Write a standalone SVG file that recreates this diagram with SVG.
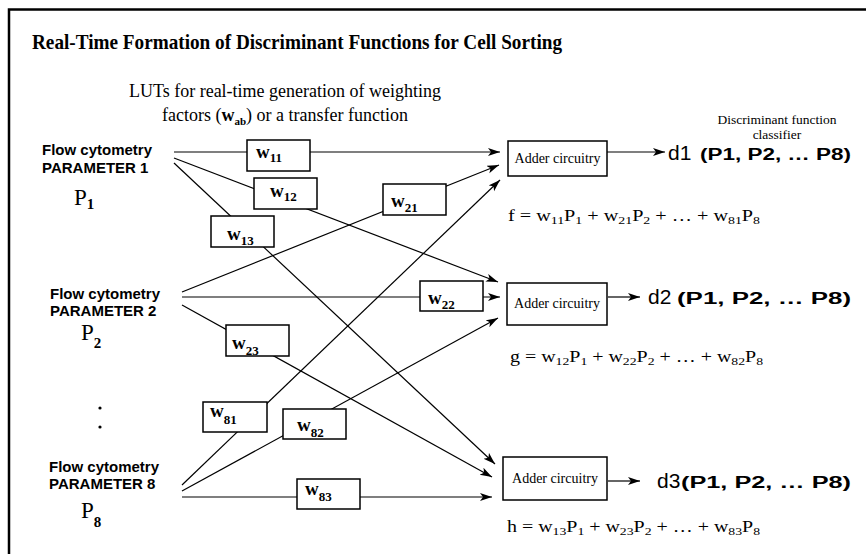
<svg xmlns="http://www.w3.org/2000/svg" width="866" height="554" viewBox="0 0 866 554">
<style>
.frame{fill:none;stroke:#000;stroke-width:2.5}
.ln{fill:none;stroke:#000;stroke-width:1.2}
.arr{marker-end:url(#ah)}
.wbox{fill:#fff;stroke:#000;stroke-width:1.5}
.abox{fill:#fff;stroke:#000;stroke-width:1.5}
.ser{font-family:"Liberation Serif","Times New Roman",serif;fill:#000}
.wl{font-family:"Liberation Serif","Times New Roman",serif;font-weight:bold;font-size:19px}
.ws{font-size:13px}
.par{font-family:"Liberation Sans",Arial,sans-serif;font-weight:bold;font-size:15px}
.pl{font-family:"Liberation Serif","Times New Roman",serif;font-size:23px}
.plsub{font-size:15px;font-weight:bold}
.add{font-family:"Liberation Serif","Times New Roman",serif;font-size:14px}
.fm{font-family:"Liberation Serif","Times New Roman",serif;font-size:16px}
.sb{font-size:11px}
.dd{font-family:"Liberation Sans",Arial,sans-serif;font-size:21px}
.dp{font-family:"Liberation Sans",Arial,sans-serif;font-size:16px;font-weight:bold}
</style>
<defs>
<marker id="ah" markerUnits="userSpaceOnUse" markerWidth="13" markerHeight="9" refX="12" refY="4" orient="auto">
<path d="M0,0 L12,4 L0,8 L3,4 z" fill="#000"/>
</marker>
</defs>
<rect width="866" height="554" fill="#fff"/>
<path class="frame" d="M9,560 V9.5 H870"/>
<text class="ser" x="32" y="49" font-size="21" font-weight="bold" textLength="530" lengthAdjust="spacingAndGlyphs">Real-Time Formation of Discriminant Functions for Cell Sorting</text>
<text class="ser" x="285" y="97" font-size="18" text-anchor="middle">LUTs for real-time generation of weighting</text>
<text class="ser" x="285" y="121" font-size="18" text-anchor="middle">factors (<tspan font-weight="bold">w</tspan><tspan font-size="11" font-weight="bold" dy="4">ab</tspan><tspan dy="-4">) or a transfer function</tspan></text>
<text class="ser" x="777" y="124" font-size="13.5" text-anchor="middle">Discriminant function</text>
<text class="ser" x="777" y="139" font-size="13.5" text-anchor="middle">classifier</text>

<g id="connectors">
<path class="ln arr" d="M174,152 H500"/>
<path class="ln arr" d="M174,158 L498,282"/>
<path class="ln arr" d="M174,163 L495,464"/>
<path class="ln arr" d="M182,292 L499,165"/>
<path class="ln arr" d="M182,297 H500"/>
<path class="ln arr" d="M182,305 L492,477"/>
<path class="ln arr" d="M182,485 L500,180"/>
<path class="ln arr" d="M182,491 L498,318"/>
<path class="ln arr" d="M182,497 H492"/>
<path class="ln arr" d="M607,152 H665"/>
<path class="ln arr" d="M608,297 H640"/>
<path class="ln arr" d="M608,481 H640"/>
</g>

<g id="param1">
<text class="par" x="42" y="155">Flow cytometry</text>
<text class="par" x="42" y="172.5">PARAMETER 1</text>
<text class="pl" x="74" y="205">P<tspan class="plsub" dy="4">1</tspan></text>
</g>
<g id="param2">
<text class="par" x="50" y="299">Flow cytometry</text>
<text class="par" x="50" y="316">PARAMETER 2</text>
<text class="pl" x="81" y="340">P<tspan class="plsub" dy="8">2</tspan></text>
</g>
<g id="dots">
<circle cx="100" cy="408" r="1.6" fill="#000"/>
<circle cx="100" cy="427" r="1.6" fill="#000"/>
</g>
<g id="param8">
<text class="par" x="49" y="471.5">Flow cytometry</text>
<text class="par" x="49" y="489">PARAMETER 8</text>
<text class="pl" x="81" y="518">P<tspan class="plsub" dy="9">8</tspan></text>
</g>

<g id="w11"><rect class="wbox" x="247" y="140" width="63" height="31"/><text class="wl" x="256" y="158">w<tspan class="ws" dy="4">11</tspan></text></g>
<g id="w12"><rect class="wbox" x="254" y="178" width="63" height="31"/><text class="wl" x="270" y="197">w<tspan class="ws" dy="4">12</tspan></text></g>
<g id="w13"><rect class="wbox" x="211" y="216" width="63" height="31"/><text class="wl" x="227" y="240">w<tspan class="ws" dy="5">13</tspan></text></g>
<g id="w21"><rect class="wbox" x="383" y="184" width="63" height="31"/><text class="wl" x="391" y="207">w<tspan class="ws" dy="5">21</tspan></text></g>
<g id="w22"><rect class="wbox" x="420" y="281" width="63" height="30"/><text class="wl" x="428" y="304">w<tspan class="ws" dy="5">22</tspan></text></g>
<g id="w23"><rect class="wbox" x="226" y="325" width="63" height="31"/><text class="wl" x="232" y="349">w<tspan class="ws" dy="6">23</tspan></text></g>
<g id="w81"><rect class="wbox" x="203" y="402" width="64" height="30"/><text class="wl" x="210" y="417">w<tspan class="ws" dy="7">81</tspan></text></g>
<g id="w82"><rect class="wbox" x="283" y="409" width="63" height="30"/><text class="wl" x="297" y="431">w<tspan class="ws" dy="6">82</tspan></text></g>
<g id="w83"><rect class="wbox" x="297" y="479" width="63" height="30"/><text class="wl" x="305" y="495">w<tspan class="ws" dy="6">83</tspan></text></g>

<g id="adder1">
<rect class="abox" x="508" y="141" width="99" height="35"/>
<text class="add" x="557.5" y="163" text-anchor="middle">Adder circuitry</text>
</g>
<g id="adder2">
<rect class="abox" x="507" y="283" width="100" height="42"/>
<text class="add" x="557" y="308" text-anchor="middle">Adder circuitry</text>
</g>
<g id="adder3">
<rect class="abox" x="503" y="457" width="104" height="43"/>
<text class="add" x="555" y="483" text-anchor="middle">Adder circuitry</text>
</g>

<g id="out1">
<text class="dd" x="668" y="160">d1</text>
<text class="dp" x="700" y="160" font-size="15" textLength="151" lengthAdjust="spacingAndGlyphs">(P1, P2, … P8)</text>
<text class="fm" x="508" y="221" textLength="252" lengthAdjust="spacingAndGlyphs">f = w<tspan class="sb" dy="3">11</tspan><tspan dy="-3">P</tspan><tspan class="sb" dy="3">1</tspan><tspan dy="-3"> + w</tspan><tspan class="sb" dy="3">21</tspan><tspan dy="-3">P</tspan><tspan class="sb" dy="3">2</tspan><tspan dy="-3">  + …   + w</tspan><tspan class="sb" dy="3">81</tspan><tspan dy="-3">P</tspan><tspan class="sb" dy="3">8</tspan></text>
</g>
<g id="out2">
<text class="dd" x="648" y="304">d2</text>
<text class="dp" x="677" y="304" textLength="174" lengthAdjust="spacingAndGlyphs">(P1, P2, … P8)</text>
<text class="fm" x="510" y="362" textLength="253" lengthAdjust="spacingAndGlyphs">g = w<tspan class="sb" dy="3">12</tspan><tspan dy="-3">P</tspan><tspan class="sb" dy="3">1</tspan><tspan dy="-3"> + w</tspan><tspan class="sb" dy="3">22</tspan><tspan dy="-3">P</tspan><tspan class="sb" dy="3">2</tspan><tspan dy="-3">  + …   + w</tspan><tspan class="sb" dy="3">82</tspan><tspan dy="-3">P</tspan><tspan class="sb" dy="3">8</tspan></text>
</g>
<g id="out3">
<text class="dd" x="657" y="488">d3</text>
<text class="dp" x="681" y="488" textLength="170" lengthAdjust="spacingAndGlyphs">(P1, P2, … P8)</text>
<text class="fm" x="507" y="532" textLength="253" lengthAdjust="spacingAndGlyphs">h = w<tspan class="sb" dy="3">13</tspan><tspan dy="-3">P</tspan><tspan class="sb" dy="3">1</tspan><tspan dy="-3"> + w</tspan><tspan class="sb" dy="3">23</tspan><tspan dy="-3">P</tspan><tspan class="sb" dy="3">2</tspan><tspan dy="-3">  + …   + w</tspan><tspan class="sb" dy="3">83</tspan><tspan dy="-3">P</tspan><tspan class="sb" dy="3">8</tspan></text>
</g>
</svg>
